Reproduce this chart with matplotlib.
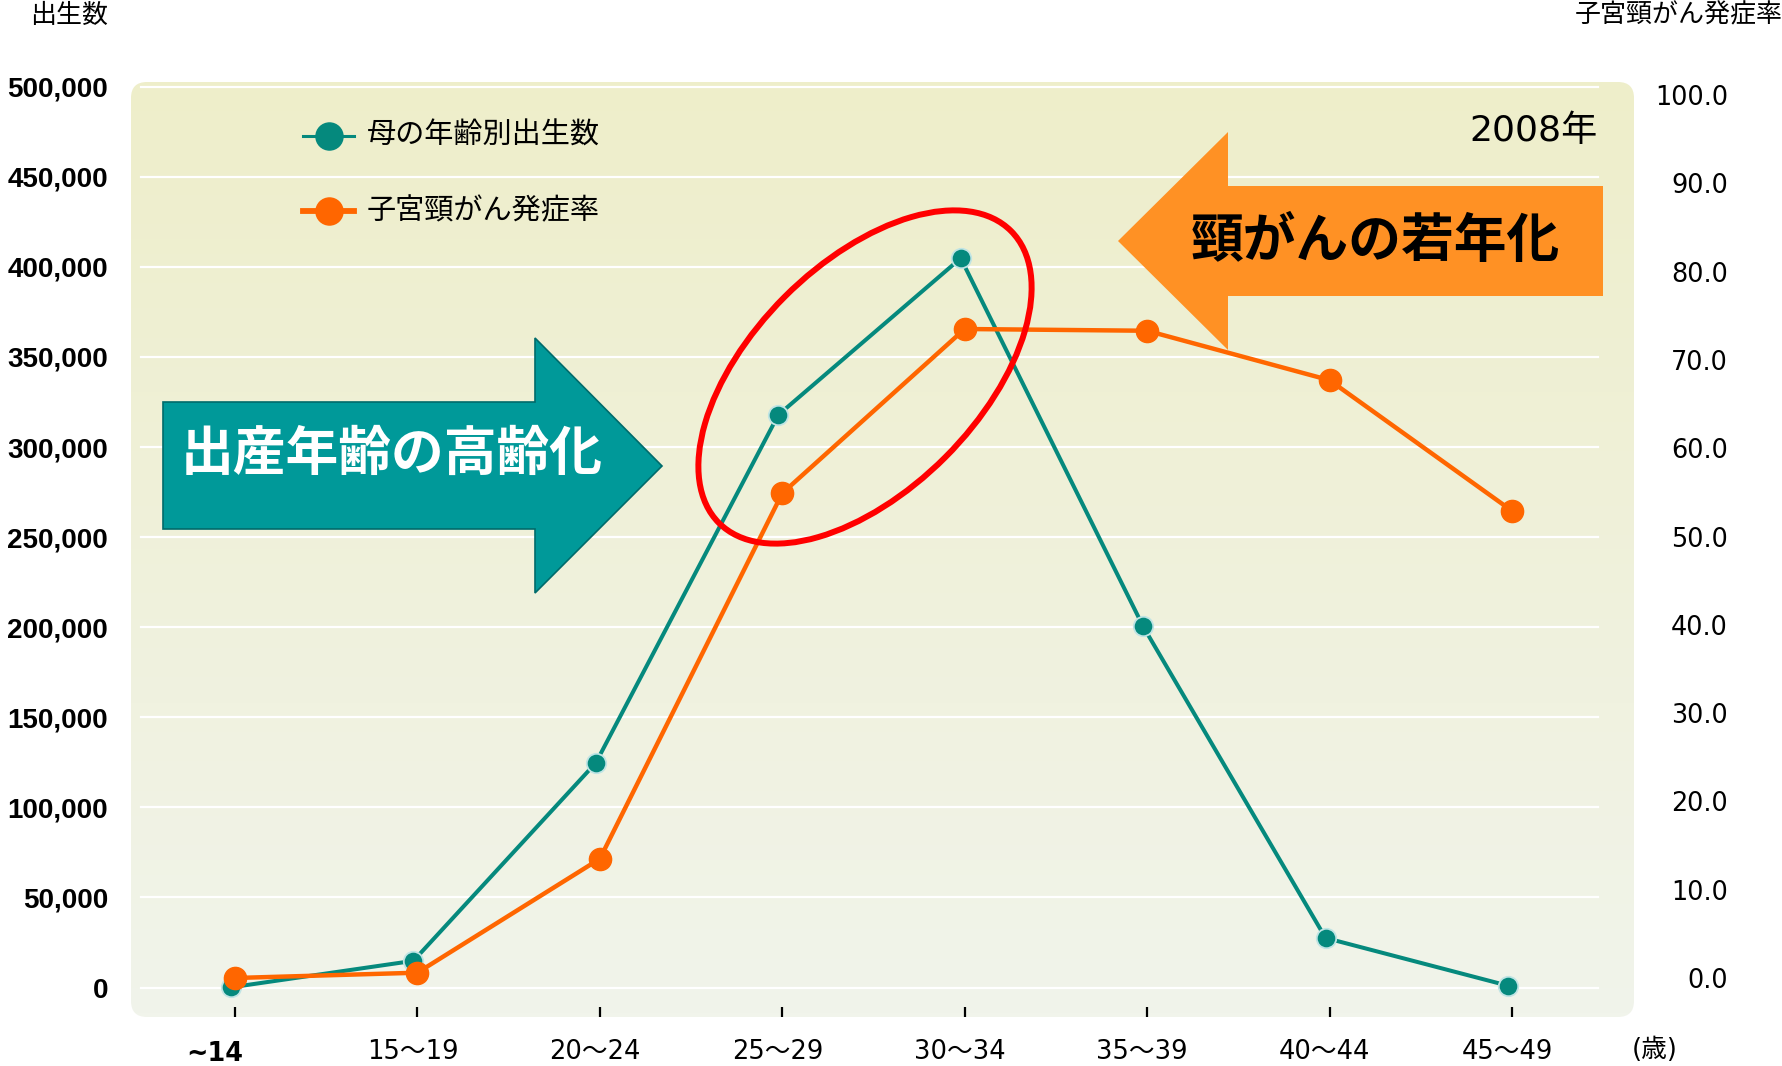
import matplotlib
matplotlib.use("Agg")
import matplotlib.pyplot as plt
import numpy as np
from matplotlib.patches import Ellipse, FancyBboxPatch, Polygon
from matplotlib.lines import Line2D
from matplotlib.transforms import Affine2D, ScaledTranslation

plt.rcParams['font.family'] = ['DejaVu Sans', 'Noto Sans CJK JP']

# data
age_groups = ["~14", "15～19", "20～24", "25～29", "30～34", "35～39", "40～44", "45～49"]
births = [100, 14800, 124700, 317800, 404800, 200400, 27500, 1000]
cancer_rate = [0.0, 0.6, 13.5, 54.9, 73.5, 73.3, 67.7, 52.9]
births_ticks = [0, 50000, 100000, 150000, 200000, 250000, 300000, 350000, 400000, 450000, 500000]
rate_ticks = [0, 10, 20, 30, 40, 50, 60, 70, 80, 90, 100]
series_names = ["母の年齢別出生数", "子宮頸がん発症率"]

TEAL = "#05897D"
ORANGE = "#FF6600"

W, H = 1783, 1066
fig = plt.figure(figsize=(W / 100, H / 100), dpi=100)
# pixel coordinates measured from the top left corner
px = Affine2D().scale(1 / W, -1 / H).translate(0, 1) + fig.transFigure


def box(left, top, right, bottom):
    return [left / W, 1 - bottom / H, (right - left) / W, (bottom - top) / H]


AX_L, AX_T, AX_R, AX_B = 131, 82, 1634, 1017
ax_w, ax_h = AX_R - AX_L, AX_B - AX_T
X0, X7 = 235, 1512

# rounded gradient background
bg = fig.add_axes(box(AX_L, AX_T, AX_R, AX_B))
bg.set_zorder(-1)
bg.set_xlim(0, ax_w)
bg.set_ylim(0, ax_h)
bg.axis("off")
top_c = np.array([238, 238, 202]) / 255
bot_c = np.array([241, 244, 235]) / 255
t = np.linspace(0, 1, 256)[:, None]
grad = (top_c * (1 - t) + bot_c * t)[:, None, :]
im = bg.imshow(grad, extent=(0, ax_w, 0, ax_h), aspect="auto", origin="upper")
clip = FancyBboxPatch((0, 0), ax_w, ax_h, boxstyle="round,pad=0,rounding_size=16",
                      transform=bg.transData, facecolor="none", edgecolor="none")
bg.add_patch(clip)
im.set_clip_path(clip)

# main axes
ax = fig.add_axes(box(AX_L, AX_T, AX_R, AX_B))
ax.set_facecolor("none")
x = np.arange(len(age_groups))
step = (X7 - X0) / 7
ax.set_xlim((AX_L - X0) / step, (AX_R - X0) / step)
ax.set_ylim(-(AX_B - 987.5) / 900.8 * 500000, 500000 + (86.7 - AX_T) / 900.8 * 500000)
for s in ax.spines.values():
    s.set_visible(False)

for v in births_ticks:
    ax.axhline(v, xmin=(140.7 - AX_L) / ax_w, xmax=(1598 - AX_L) / ax_w,
               color="white", lw=1.6, zorder=1)

ax.set_yticks(births_ticks, [f"{v:,}" for v in births_ticks],
              fontfamily="Liberation Sans", fontweight="bold", fontsize=20)
ax.tick_params(axis="y", length=0, pad=16.5)
ax.set_xticks(x)
ax.tick_params(axis="x", direction="in", length=7, width=1.6, color="black",
               labelbottom=False)

# the birth series sits a few pixels left of the ticks in the original
shift_left = ax.transData + ScaledTranslation(-4 / 100, 0, fig.dpi_scale_trans)
ax.plot(x, births, color=TEAL, lw=2.9, marker="o", ms=14, mfc=TEAL,
        mec="#BFE4E4", mew=1.3, zorder=3, solid_joinstyle="round",
        transform=shift_left)

ax2 = ax.twinx()
ax2.set_ylim(-(AX_B - 978) / 8.83, 100 + (95 - AX_T) / 8.83)
for s in ax2.spines.values():
    s.set_visible(False)
ax2.set_yticks(rate_ticks, [f"{v:.1f}" for v in rate_ticks], fontsize=18.4)
ax2.tick_params(axis="y", length=0, pad=67.7)
for lbl in ax2.get_yticklabels():
    lbl.set_horizontalalignment("right")
ax2.plot(x, cancer_rate, color=ORANGE, lw=3.2, marker="o", ms=16, mfc=ORANGE,
         mec=ORANGE, zorder=3, solid_joinstyle="round")

# category labels under the axes
for i, lab in enumerate(age_groups):
    xp = X0 + i * step
    if i == 0:
        fig.text(xp - 20, 1054, lab, transform=px, ha="center", va="center",
                 fontsize=18.4, fontweight="bold")
    else:
        fig.text(xp - 5, 1052, lab, transform=px, ha="center", va="center",
                 fontsize=18.5)
fig.text(1655, 1050, "(歳)", transform=px, ha="center", va="center", fontsize=18.5)

# axis titles
fig.text(108, 16, "出生数", transform=px, ha="right", va="center", fontsize=18.7)
fig.text(1783, 15, "子宮頸がん発症率", transform=px, ha="right", va="center", fontsize=18.7)

# legend
for (name, col, lw, y) in [(series_names[0], TEAL, 2.2, 135.7),
                           (series_names[1], ORANGE, 4.2, 211)]:
    fig.add_artist(Line2D([303, 354], [y, y], transform=px, color=col, lw=lw))
    fig.add_artist(Line2D([329], [y], transform=px, color=col, marker="o", ms=19.5,
                          mec=col, lw=0))
    fig.text(367, y, name, transform=px, ha="left", va="center", fontsize=21)

fig.text(1598, 131, "2008年", transform=px, ha="right", va="center", fontsize=26)

# arrows
teal_arrow = Polygon([(163, 402), (535, 402), (535, 338), (662, 466), (535, 593),
                      (535, 529), (163, 529)], closed=True, transform=px,
                     facecolor="#009999", edgecolor="#006B6B", lw=1.2, zorder=2)
fig.add_artist(teal_arrow)
fig.text(181, 455, "出産年齢の高齢化", transform=px, ha="left", va="center",
         fontsize=38, fontweight="bold", color="white", zorder=4)

orange_arrow = Polygon([(1603, 186), (1228, 186), (1228, 132), (1118, 241), (1228, 350),
                        (1228, 296), (1603, 296)], closed=True, transform=px,
                       facecolor="#FF9124", edgecolor="none", zorder=2)
fig.add_artist(orange_arrow)
fig.text(1191, 242, "頸がんの若年化", transform=px, ha="left", va="center",
         fontsize=38, fontweight="bold", color="black", zorder=4)

# red ellipse around the 25-34 peak
fig.add_artist(Ellipse((865, 377), 413, 227, angle=-45, transform=px,
                       facecolor="none", edgecolor="#FF0000", lw=4.3, zorder=3))

fig.savefig("out.png", dpi=100)
